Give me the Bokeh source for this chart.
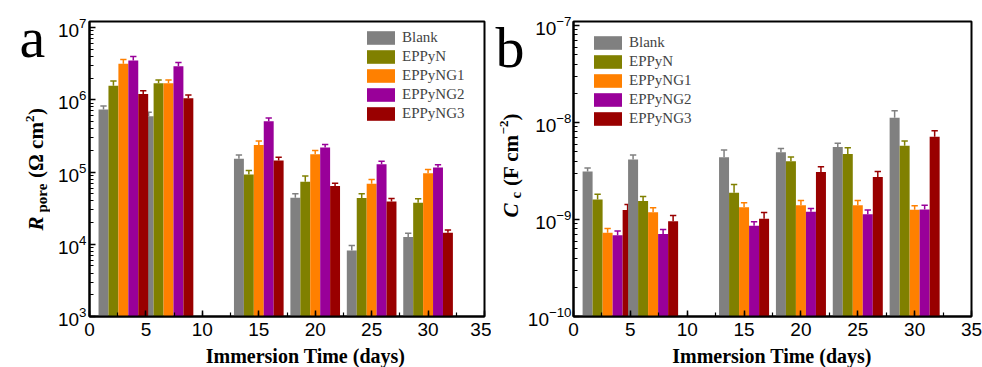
import math
from bokeh.plotting import figure
from bokeh.layouts import row, column
from bokeh.models import Legend, LegendItem, LogTicker, SingleIntervalTicker, Range1d
from bokeh.core.properties import value
from bokeh.embed import file_html
from bokeh.resources import INLINE

# ---------------- data ----------------
days = [3, 7, 15, 20, 25, 30]
series = ["Blank", "EPPyN", "EPPyNG1", "EPPyNG2", "EPPyNG3"]
colors = ["#808080", "#808000", "#FF8000", "#990099", "#990000"]

# panel a: R_pore (Ohm cm^2)
rpore_blank = [7.3e5, 5.9e5, 1.53e5, 4.4e4, 8.2e3, 1.26e4]
rpore_eppyn = [1.56e6, 1.69e6, 9.2e4, 7.3e4, 4.36e4, 3.75e4]
rpore_ng1 = [3.16e6, 1.69e6, 2.37e5, 1.76e5, 6.9e4, 9.6e4]
rpore_ng2 = [3.5e6, 2.9e6, 5.06e5, 2.18e5, 1.28e5, 1.15e5]
rpore_ng3 = [1.2e6, 1.05e6, 1.44e5, 6.4e4, 3.9e4, 1.44e4]
rpore_blank_err = [0.9e5, 0.8e5, 1.9e4, 6e3, 1.4e3, 1.6e3]
rpore_eppyn_err = [2.6e5, 1.9e5, 1.3e4, 1.5e4, 6.4e3, 5.1e3]
rpore_ng1_err = [4.4e5, 1.9e5, 3.2e4, 2.2e4, 1.0e4, 1.2e4]
rpore_ng2_err = [4.6e5, 3.7e5, 5.4e4, 2.2e4, 1.3e4, 1.1e4]
rpore_ng3_err = [1.3e5, 1.1e5, 1.6e4, 6e3, 4e3, 1.4e3]

# panel b: C_c (F cm^-2)
cc_blank = [3.13e-9, 4.15e-9, 4.38e-9, 4.93e-9, 5.58e-9, 1.12e-8]
cc_eppyn = [1.61e-9, 1.55e-9, 1.89e-9, 3.99e-9, 4.74e-9, 5.77e-9]
cc_ng1 = [7.3e-10, 1.19e-9, 1.34e-9, 1.40e-9, 1.40e-9, 1.26e-9]
cc_ng2 = [6.9e-10, 7.1e-10, 8.6e-10, 1.2e-9, 1.13e-9, 1.27e-9]
cc_ng3 = [1.25e-9, 9.6e-10, 1.02e-9, 3.08e-9, 2.74e-9, 7.13e-9]
cc_blank_err = [0.27e-9, 0.48e-9, 0.82e-9, 0.47e-9, 0.52e-9, 2.0e-9]
cc_eppyn_err = [0.21e-9, 0.18e-9, 0.41e-9, 0.41e-9, 0.76e-9, 0.67e-9]
cc_ng1_err = [0.8e-10, 1.3e-10, 1.5e-10, 1.7e-10, 1.7e-10, 1.3e-10]
cc_ng2_err = [0.7e-10, 0.8e-10, 0.9e-10, 1.0e-10, 1.2e-10, 1.3e-10]
cc_ng3_err = [1.8e-10, 1.4e-10, 1.6e-10, 4.2e-10, 3.9e-10, 1.07e-9]

x_label = "Immersion Time (days)"
x_ticks_interval = 5
BW = 0.88
CAP = 0.28

SERIF = "Liberation Serif"
SANS = "Liberation Sans"
ROW_H = 345
STRIP_H = 367 - ROW_H
FT, FB = 21, 316  # common frame top / bottom (plots in a row share them)


def make_fig(ymin, ymax, fl, fr, x0, width):
    p = figure(width=width, height=ROW_H, x_range=Range1d(0, 35), y_range=Range1d(ymin, ymax),
               y_axis_type="log", output_backend="svg", toolbar_location=None,
               min_border_left=fl - x0, min_border_right=x0 + width - fr,
               min_border_top=FT, min_border_bottom=ROW_H - FB)
    p.background_fill_color = "white"
    p.border_fill_color = "white"
    p.xgrid.visible = False
    p.ygrid.visible = False
    p.outline_line_color = "black"
    p.outline_line_width = 2
    p.xaxis.ticker = SingleIntervalTicker(interval=x_ticks_interval, num_minor_ticks=2)
    p.yaxis.ticker = LogTicker(mantissas=[1], num_minor_ticks=10)
    for ax in (p.xaxis[0], p.yaxis[0]):
        ax.axis_line_width = 2
        ax.axis_line_color = "black"
        ax.major_tick_in = 6
        ax.major_tick_out = 0
        ax.minor_tick_in = 4
        ax.minor_tick_out = 0
        ax.major_tick_line_width = 1.5
        ax.minor_tick_line_width = 1.2
        ax.major_tick_line_color = "black"
        ax.minor_tick_line_color = "black"
        ax.major_label_text_font = SANS
        ax.major_label_text_font_size = "19px"
        ax.major_label_text_color = "black"
    p.xaxis.major_label_standoff = 6
    p.yaxis.major_label_standoff = 3
    return p


def text_fig(width, height, x0, y_top, y_bot, b_top, b_bot):
    """Bare figure; its frame maps page pixels (y downwards)."""
    p = figure(width=width, height=height, x_range=Range1d(x0, x0 + width),
               y_range=Range1d(y_bot, y_top), output_backend="svg", toolbar_location=None,
               x_axis_location=None, y_axis_location=None,
               min_border=0, min_border_left=0, min_border_right=0,
               min_border_top=b_top, min_border_bottom=b_bot)
    p.outline_line_color = None
    p.xgrid.visible = False
    p.ygrid.visible = False
    p.background_fill_color = "white"
    p.border_fill_color = "white"
    return p


def txt(p, x, y, s, size, style="normal", angle=0.0, align="left", font=SERIF):
    p.text(x=[x], y=[y], text=[s], text_font=value(font), text_font_size=f"{size}px",
           text_font_style=style, angle=angle, text_align=align,
           text_baseline="middle", text_color="black")


def draw_bars(p, vals, errs, idxs, bottom):
    rends = []
    for i, (v, e, c) in enumerate(zip(vals, errs, colors)):
        xs = [days[k] + (i - 2) * BW for k in idxs]
        tops = [v[k] for k in idxs]
        ups = [v[k] + e[k] for k in idxs]
        r = p.vbar(x=xs, top=tops, bottom=bottom, width=BW, fill_color=c, line_color=None)
        p.segment(x0=xs, y0=tops, x1=xs, y1=ups, line_color=c, line_width=1.5)
        p.segment(x0=[x - CAP for x in xs], y0=ups, x1=[x + CAP for x in xs], y1=ups,
                  line_color=c, line_width=1.5)
        rends.append(r)
    return rends


def add_legend(p, rends, vx, vy):
    items = [LegendItem(label=s, renderers=[r]) for s, r in zip(series, rends)]
    leg = Legend(items=items, location=(vx, vy), padding=0, margin=0, spacing=2,
                 glyph_width=35, glyph_height=17, label_height=17, label_standoff=4,
                 border_line_color=None, background_fill_alpha=0,
                 label_text_font=SERIF, label_text_font_size="15px")
    p.add_layout(leg)


ang = math.pi / 2  # counter-clockwise: reads bottom-to-top
M = 0.34  # middle line offset from the alphabetic baseline (em)

# ---------------- panel a ----------------
tA = text_fig(50, ROW_H, 0, FT, FB, FT, ROW_H - FB)
txt(tA, 19, 57 - M * 58, "a", 58)
txt(tA, 43 - M * 21, 230, "R", 21, style="bold italic", angle=ang)
txt(tA, 46.5 - M * 15, 212, "pore", 15, style="bold", angle=ang)
txt(tA, 43 - M * 21, 177.5, "(\u03a9 cm", 21, style="bold", angle=ang)
txt(tA, 33.5 - M * 13, 121.5, "2", 13, style="bold", angle=ang)
txt(tA, 43 - M * 21, 114.5, ")", 21, style="bold", angle=ang)

pa = make_fig(1e3, 10 ** (7 + 6 / 72.25), 89, 484, 50, 441)
vals_a = [rpore_blank, rpore_eppyn, rpore_ng1, rpore_ng2, rpore_ng3]
errs_a = [rpore_blank_err, rpore_eppyn_err, rpore_ng1_err, rpore_ng2_err, rpore_ng3_err]
rends_a = draw_bars(pa, vals_a, errs_a, list(range(6)), 1.0)
add_legend(pa, rends_a, 274, 194)

# ---------------- panel b ----------------
TB_X0, TB_W = 491, 33
tB = text_fig(TB_W, ROW_H, TB_X0, FT, FB, FT, ROW_H - FB)
txt(tB, 495, 66.7 - M * 58, "b", 58)
txt(tB, 517.5 - M * 21, 217, "C", 21, style="bold italic", angle=ang)
txt(tB, 520.5 - M * 15, 198, "c", 15, style="bold", angle=ang)
txt(tB, 517.5 - M * 21, 185.5, "(F cm", 21, style="bold", angle=ang)
txt(tB, 508 - M * 13, 134, "\u22122", 13, style="bold", angle=ang)
txt(tB, 517.5 - M * 21, 120, ")", 21, style="bold", angle=ang)

pb = make_fig(1e-10, 10 ** (-7 + 4 / 97.0), 573, 971, TB_X0 + TB_W, 982 - TB_X0 - TB_W)
pb.yaxis.major_label_standoff = 2
vals_b = [cc_blank, cc_eppyn, cc_ng1, cc_ng2, cc_ng3]
errs_b = [cc_blank_err, cc_eppyn_err, cc_ng1_err, cc_ng2_err, cc_ng3_err]
rends_b = draw_bars(pb, vals_b, errs_b, [0], 1e-12)
draw_bars(pb, vals_b, errs_b, [1, 2, 3, 4, 5], 1e-12)
add_legend(pb, rends_b, 17, 189)

# ---------------- x-axis titles strip ----------------
strip = text_fig(982, STRIP_H, 0, ROW_H, 367, 0, 0)
txt(strip, 305, 362.5 - M * 20, x_label, 20, style="bold", align="center")
txt(strip, 771.5, 362.5 - M * 20, x_label, 20, style="bold", align="center")

layout = column(row(tA, pa, tB, pb), strip)
open("out.html", "w").write(file_html(layout, INLINE))
